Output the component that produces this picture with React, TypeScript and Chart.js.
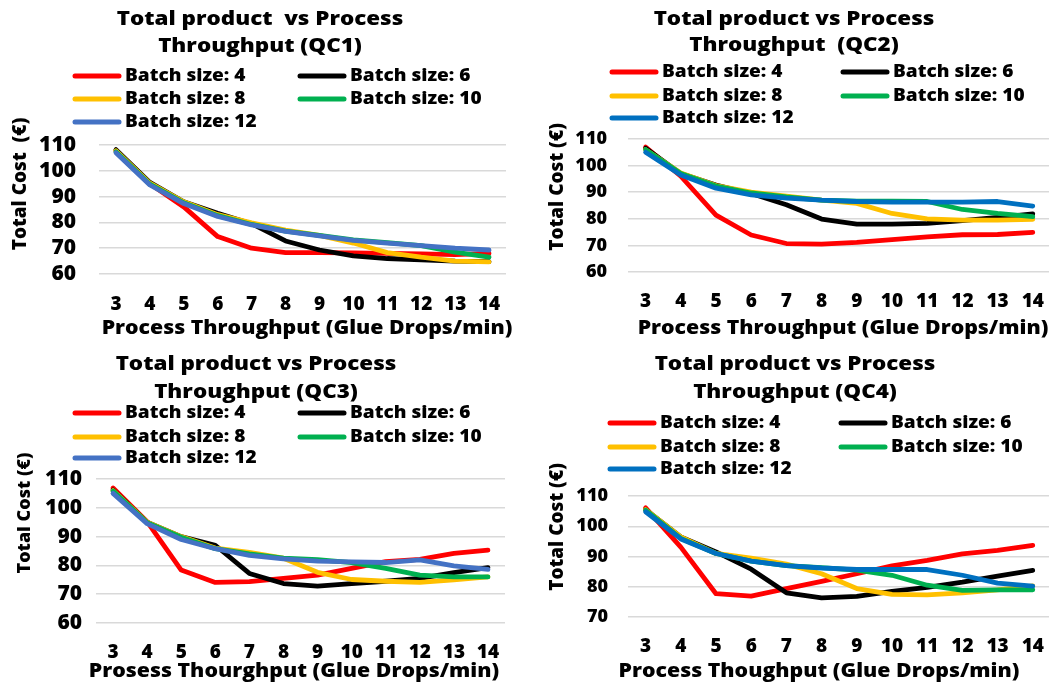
import React, { useEffect, useRef } from 'react';
import { Chart, registerables } from 'chart.js';

Chart.register(...registerables);

// ---------------- DATA ----------------
const throughput = ['3', '4', '5', '6', '7', '8', '9', '10', '11', '12', '13', '14'];
const batchLabels = ['Batch size: 4', 'Batch size: 6', 'Batch size: 8', 'Batch size: 10', 'Batch size: 12'];

// QC1
const qc1Batch4 = [107.8, 95, 86, 74.5, 70, 68.3, 68.3, 68.2, 68, 67.8, 67.5, 68];
const qc1Batch6 = [108.2, 95.5, 88, 83.5, 79.5, 72.8, 69.3, 67, 66, 65.5, 65, 64.8];
const qc1Batch8 = [107.8, 95.2, 88, 83, 79.8, 77, 75, 72, 68.3, 66.5, 65, 64.7];
const qc1Batch10 = [107.4, 94.8, 87.6, 82.6, 79.2, 76.6, 75, 73.2, 72.2, 71, 68.5, 66.5];
const qc1Batch12 = [107, 94.5, 87.3, 82.3, 79, 76.5, 74.8, 73, 72, 71, 70, 69.3];

// QC2
const qc2Batch4 = [107, 96, 81.4, 73.9, 70.7, 70.5, 71.1, 72.2, 73.2, 74, 74.1, 74.9];
const qc2Batch6 = [106.5, 97, 92.7, 89.5, 85.3, 79.9, 78, 78, 78.3, 79.3, 80.5, 81.8];
const qc2Batch8 = [106, 97.2, 92.5, 90, 88.5, 87, 85.8, 82, 80, 79.5, 79.5, 79.8];
const qc2Batch10 = [106, 97, 92.3, 89.7, 88.2, 87, 86.6, 86.6, 86.5, 83.5, 82, 80.8];
const qc2Batch12 = [105, 96.5, 91.5, 89, 87.8, 87, 86.5, 86.3, 86.3, 86.3, 86.5, 84.8];

// QC3
const qc3Batch4 = [106.9, 95.2, 78.4, 74.1, 74.4, 75.5, 76.6, 79, 81.3, 82.1, 84.2, 85.3];
const qc3Batch6 = [106.2, 95, 90, 87, 77.2, 73.7, 72.8, 73.7, 74.5, 75.5, 77.5, 79.2];
const qc3Batch8 = [106, 95, 90, 86, 84.5, 82.5, 77.6, 75.1, 74.5, 74.1, 75, 76];
const qc3Batch10 = [105.8, 94.8, 89.8, 85.8, 84, 82.5, 82, 81, 79, 76.6, 76, 76];
const qc3Batch12 = [105, 94.5, 89, 85.8, 83.5, 82.3, 81.5, 81.2, 81, 81.9, 79.8, 78.6];

// QC4
const qc4Batch4 = [106.1, 93.1, 77.7, 76.9, 79.4, 81.8, 84.3, 86.9, 88.7, 90.9, 92, 93.7];
const qc4Batch6 = [105.5, 96.5, 91.5, 85.8, 78, 76.3, 76.8, 78.5, 79.8, 81.5, 83.5, 85.4];
const qc4Batch8 = [105.5, 96.5, 91, 89.5, 87.5, 84.3, 79.4, 77.5, 77.3, 78, 79, 80.3];
const qc4Batch10 = [105.3, 96, 91, 88.5, 87, 86.3, 85.5, 83.8, 80.5, 78.8, 79, 79];
const qc4Batch12 = [104.8, 95.8, 91, 88.5, 87, 86.2, 85.7, 85.7, 85.7, 83.8, 81.2, 80.2];

const qc1Title = ['Total product  vs Process', 'Throughput (QC1)'];
const qc2Title = ['Total product vs Process', 'Throughput  (QC2)'];
const qc3Title = ['Total product vs Process', 'Throughput (QC3)'];
const qc4Title = ['Total product vs Process', 'Throughput (QC4)'];

const yTitleQC1 = 'Total Cost  (€)';
const yTitleOther = 'Total Cost (€)';
const xTitleQC1 = 'Process Throughput (Glue Drops/min)';
const xTitleQC2 = 'Process Throughput (Glue Drops/min)';
const xTitleQC3 = 'Prosess Thourghput (Glue Drops/min)';
const xTitleQC4 = 'Process Thoughput (Glue Drops/min)';

// ---------------- STYLE ----------------
const FONT = '"Open Sans", "Liberation Sans", sans-serif';
const WEIGHT = '800';
const colorsA = ['#FF0000', '#000000', '#FFC000', '#00B050', '#4472C4'];
const colorsB = ['#FF0000', '#000000', '#FFC000', '#00B050', '#0070C0'];

type Layout = {
  x: number; y: number; w: number; h: number;
  left: number; right: number; top: number; bottom: number;
  yMin: number; yMax: number;
  yTickSize: number; yPad: number; xPad: number;
  titleX: number; titleY: number[];
  legendX: number[]; legendY: number[];
  yTitleX: number; yTitleY: number; yTitleSize: number;
  xTitleX: number; xTitleY: number;
};

const decorPlugin = {
  id: 'decor',
  afterDraw(chart: any, _args: any, o: any) {
    const ctx: CanvasRenderingContext2D = chart.ctx;
    const text = (s: string, x: number, y: number, size: number, align: CanvasTextAlign, stretch: number, rotate = false) => {
      ctx.save();
      ctx.translate(x, y);
      if (rotate) ctx.rotate(-Math.PI / 2);
      ctx.scale(stretch, 1);
      ctx.font = `${WEIGHT} ${size}px ${FONT}`;
      ctx.fillStyle = '#000';
      ctx.textAlign = align;
      ctx.textBaseline = 'middle';
      ctx.fillText(s, 0, 0);
      ctx.restore();
    };
    o.titleLines.forEach((t: string, i: number) => text(t, o.titleX, o.titleY[i], 20, 'center', 1.12));
    chart.data.datasets.forEach((ds: any, i: number) => {
      const col = i % 2;
      const row = Math.floor(i / 2);
      const x0 = o.legendX[col];
      const y = o.legendY[row];
      ctx.save();
      ctx.strokeStyle = ds.borderColor;
      ctx.lineWidth = 5;
      ctx.lineCap = 'round';
      ctx.beginPath();
      ctx.moveTo(x0 + 2, y);
      ctx.lineTo(x0 + 46, y);
      ctx.stroke();
      ctx.restore();
      text(ds.label, x0 + 52, y, 17, 'left', 1.12);
    });
    text(o.yTitle, o.yTitleX, o.yTitleY, o.yTitleSize, 'center', 1, true);
    text(o.xTitle, o.xTitleX, o.xTitleY, 19, 'center', 1.12);
  },
};

function Panel(props: { layout: Layout; series: number[][]; colors: string[]; title: string[]; yTitle: string; xTitle: string }) {
  const ref = useRef<HTMLCanvasElement | null>(null);
  const { layout: L, series, colors, title, yTitle, xTitle } = props;
  useEffect(() => {
    if (!ref.current) return;
    const chart = new Chart(ref.current, {
      type: 'line',
      data: {
        labels: throughput,
        datasets: series.map((d, i) => ({
          label: batchLabels[i],
          data: d,
          borderColor: colors[i],
          backgroundColor: colors[i],
          order: 4 - i,
        })),
      },
      options: {
        responsive: false,
        animation: false,
        devicePixelRatio: 1,
        layout: { padding: { top: L.top, left: 0, right: L.w - L.right, bottom: 0 } },
        elements: {
          point: { radius: 0, hoverRadius: 0 },
          line: { tension: 0, borderWidth: 4.8, borderCapStyle: 'round', borderJoinStyle: 'round', fill: false },
        },
        plugins: {
          legend: { display: false },
          title: { display: false },
          tooltip: { enabled: false },
          decor: {
            titleLines: title, titleX: L.titleX, titleY: L.titleY,
            legendX: L.legendX, legendY: L.legendY,
            yTitle, yTitleX: L.yTitleX, yTitleY: L.yTitleY, yTitleSize: L.yTitleSize,
            xTitle, xTitleX: L.xTitleX, xTitleY: L.xTitleY,
          },
        } as any,
        scales: {
          x: {
            type: 'category',
            offset: true,
            grid: { display: false },
            border: { display: false },
            ticks: {
              color: '#000', autoSkip: false, maxRotation: 0, padding: L.xPad,
              font: { family: FONT, size: 19, weight: WEIGHT },
            },
            afterFit: (s: any) => { s.height = L.h - L.bottom; },
          },
          y: {
            min: L.yMin, max: L.yMax,
            grid: { color: '#d9d9d9', lineWidth: 1.5, drawTicks: false },
            border: { display: false },
            ticks: {
              stepSize: 10, color: '#000', padding: L.yPad, autoSkip: false,
              font: { family: FONT, size: L.yTickSize, weight: WEIGHT, lineHeight: 0.9 },
            },
            afterFit: (s: any) => { s.width = L.left; },
          },
        },
      } as any,
      plugins: [decorPlugin],
    });
    return () => chart.destroy();
  }, []);
  return (
    <canvas
      ref={ref}
      width={L.w}
      height={L.h}
      style={{ position: 'absolute', left: L.x, top: L.y, width: L.w, height: L.h, display: 'block' }}
    />
  );
}

const layout1: Layout = {
  x: 0, y: 0, w: 525, h: 340, left: 99, right: 506, top: 145, bottom: 274,
  yMin: 60, yMax: 110, yTickSize: 21, yPad: 23, xPad: 11,
  titleX: 260, titleY: [19, 46], legendX: [73, 298], legendY: [76, 99, 122],
  yTitleX: 21, yTitleY: 184, yTitleSize: 19, xTitleX: 307, xTitleY: 329,
};
const layout2: Layout = {
  x: 528, y: 0, w: 526, h: 340, left: 100, right: 524, top: 139, bottom: 272,
  yMin: 60, yMax: 110, yTickSize: 18, yPad: 21, xPad: 10,
  titleX: 266, titleY: [19, 45], legendX: [82, 313], legendY: [72, 96, 118],
  yTitleX: 30, yTitleY: 187, yTitleSize: 19, xTitleX: 315, xTitleY: 329,
};
const layout3: Layout = {
  x: 0, y: 340, w: 525, h: 342, left: 96, right: 505, top: 139, bottom: 283,
  yMin: 60, yMax: 110, yTickSize: 21, yPad: 14, xPad: 10,
  titleX: 256, titleY: [24, 52], legendX: [73, 298], legendY: [73, 97, 118],
  yTitleX: 25, yTitleY: 173, yTitleSize: 18, xTitleX: 294, xTitleY: 332,
};
const layout4: Layout = {
  x: 528, y: 340, w: 526, h: 342, left: 100, right: 524, top: 156, bottom: 277,
  yMin: 70, yMax: 110, yTickSize: 18, yPad: 20, xPad: 10,
  titleX: 267, titleY: [24, 52], legendX: [80, 311], legendY: [83, 107, 129],
  yTitleX: 30, yTitleY: 187, yTitleSize: 19, xTitleX: 291, xTitleY: 332,
};

export default function App() {
  return (
    <div style={{ position: 'absolute', left: 0, top: 0, width: 1049, height: 682, overflow: 'hidden', background: '#fff' }}>
      <Panel layout={layout1} colors={colorsA} title={qc1Title} yTitle={yTitleQC1} xTitle={xTitleQC1}
        series={[qc1Batch4, qc1Batch6, qc1Batch8, qc1Batch10, qc1Batch12]} />
      <Panel layout={layout2} colors={colorsB} title={qc2Title} yTitle={yTitleOther} xTitle={xTitleQC2}
        series={[qc2Batch4, qc2Batch6, qc2Batch8, qc2Batch10, qc2Batch12]} />
      <Panel layout={layout3} colors={colorsA} title={qc3Title} yTitle={yTitleOther} xTitle={xTitleQC3}
        series={[qc3Batch4, qc3Batch6, qc3Batch8, qc3Batch10, qc3Batch12]} />
      <Panel layout={layout4} colors={colorsB} title={qc4Title} yTitle={yTitleOther} xTitle={xTitleQC4}
        series={[qc4Batch4, qc4Batch6, qc4Batch8, qc4Batch10, qc4Batch12]} />
    </div>
  );
}
